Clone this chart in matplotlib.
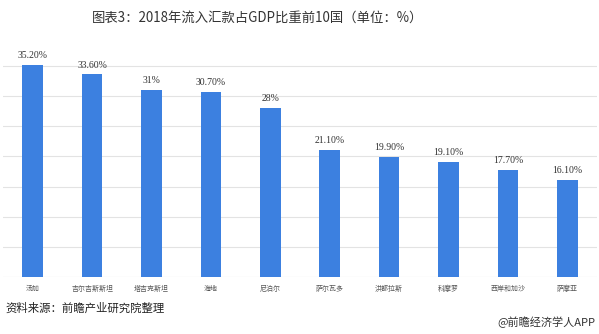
import matplotlib
matplotlib.use('Agg')
import matplotlib.pyplot as plt
import numpy as np

plt.rcParams['font.family'] = ['Noto Sans CJK SC', 'DejaVu Sans']

# data
countries = ['汤加', '吉尔吉斯斯坦', '塔吉克斯坦', '海地', '尼泊尔',
             '萨尔瓦多', '洪都拉斯', '科摩罗', '西岸和加沙', '萨摩亚']
values = [35.2, 33.6, 31.0, 30.7, 28.0, 21.1, 19.9, 19.1, 17.7, 16.1]
value_labels = ['35.20%', '33.60%', '31%', '30.70%', '28%',
                '21.10%', '19.90%', '19.10%', '17.70%', '16.10%']
grid_vals = [5, 10, 15, 20, 25, 30, 35]

fig = plt.figure(figsize=(5.99, 3.34), dpi=100)
ax = fig.add_axes([3/599, 57/334, 594/599, 220/334])

x = np.arange(len(countries))
ax.bar(x, values, width=0.35, color='#3c80e0', zorder=3)

# grid
for g in grid_vals:
    ax.axhline(g, color='#e3e3e3', linewidth=0.8, zorder=1)
ax.axhline(0, color='#d9d9d9', linewidth=0.8, zorder=1)

# value labels
for xi, v, lab in zip(x, values, value_labels):
    ax.text(xi, v + 0.8, lab, ha='center', va='bottom', fontsize=7,
            family='Liberation Serif', color='#333333')

ax.set_xlim(-0.5, len(countries) - 0.5)
ax.set_ylim(0, 36.5)
ax.set_xticks(x)
ax.set_xticklabels(countries, fontsize=5, color='#555555')
ax.tick_params(axis='x', length=0, pad=6)
ax.set_yticks([])
for s in ax.spines.values():
    s.set_visible(False)

fig.text(258/599, 1 - 18/334, '图表3：2018年流入汇款占GDP比重前10国（单位：%）',
         ha='center', va='center', fontsize=9.6, color='#333333')
fig.text(5/599, 1 - 308/334, '资料来源：前瞻产业研究院整理',
         ha='left', va='center', fontsize=8.2, color='#222222', style='italic')
fig.text(595/599, 1 - 322/334, '@前瞻经济学人APP',
         ha='right', va='center', fontsize=8, color='#333333')

plt.savefig('out.png', dpi=100)
